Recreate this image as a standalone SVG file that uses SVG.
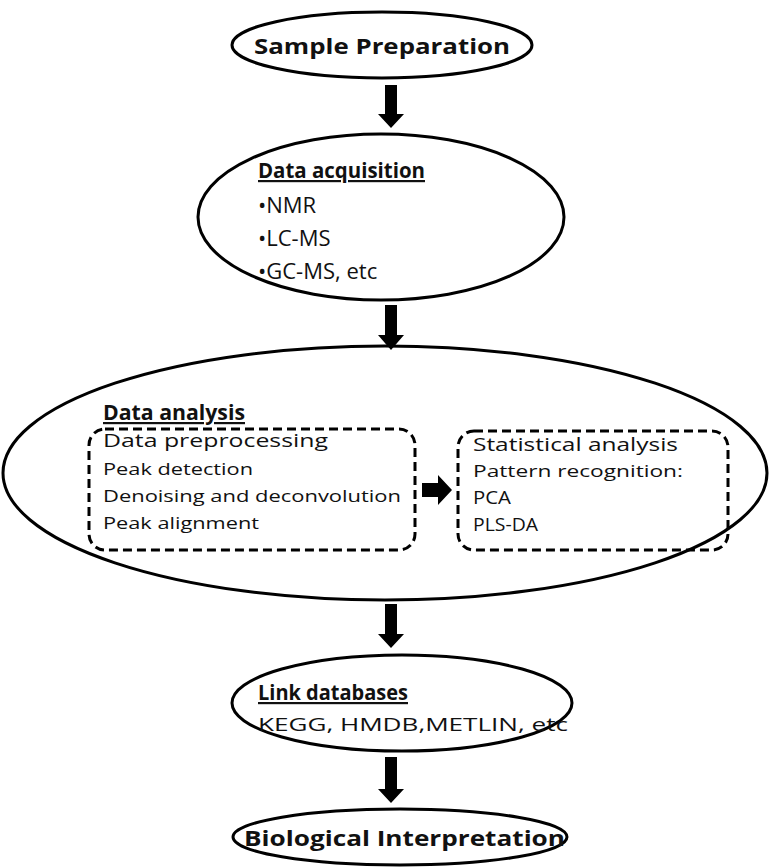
<svg xmlns="http://www.w3.org/2000/svg" width="769" height="868" viewBox="0 0 769 868">
<defs>
<style>
.node{fill:#fff;stroke:#000;stroke-width:3}
.box{fill:none;stroke:#000;stroke-width:3;stroke-dasharray:9 5}
.t{font-family:"Open Sans","Liberation Sans",sans-serif;fill:#111}
.b{font-weight:bold}
.u{text-decoration:underline}
.arrow{fill:#000}
</style>
</defs>
<rect width="769" height="868" fill="#fff"/>
<g id="sample-prep">
<ellipse class="node" cx="382" cy="45" rx="150" ry="33"/>
<text class="t b" x="254" y="54" font-size="22" textLength="256" lengthAdjust="spacingAndGlyphs">Sample Preparation</text>
</g>
<g id="data-acquisition">
<ellipse class="node" cx="381" cy="217" rx="183" ry="83"/>
<text class="t b u" x="258" y="178" font-size="22" textLength="167" lengthAdjust="spacingAndGlyphs">Data acquisition</text>
<text class="t" x="258" y="213" font-size="22">•NMR</text>
<text class="t" x="258" y="246" font-size="22">•LC-MS</text>
<text class="t" x="258" y="279" font-size="22">•GC-MS, etc</text>
</g>
<g id="data-analysis">
<ellipse class="node" cx="385" cy="473" rx="382" ry="127"/>
<text class="t b u" x="103" y="420" font-size="22" textLength="142" lengthAdjust="spacingAndGlyphs">Data analysis</text>
</g>
<g id="preprocessing">
<rect class="box" x="89" y="429" width="326" height="121" rx="16"/>
<text class="t" x="103" y="447" font-size="19" textLength="225" lengthAdjust="spacingAndGlyphs">Data preprocessing</text>
<text class="t" x="103" y="475" font-size="17" textLength="150" lengthAdjust="spacingAndGlyphs">Peak detection</text>
<text class="t" x="103" y="502" font-size="17" textLength="298" lengthAdjust="spacingAndGlyphs">Denoising and  deconvolution</text>
<text class="t" x="103" y="529" font-size="17" textLength="156" lengthAdjust="spacingAndGlyphs">Peak alignment</text>
</g>
<g id="statistical">
<rect class="box" x="458" y="431" width="270" height="119" rx="16"/>
<text class="t" x="473" y="451" font-size="18" textLength="205" lengthAdjust="spacingAndGlyphs">Statistical analysis</text>
<text class="t" x="473" y="477" font-size="17" textLength="210" lengthAdjust="spacingAndGlyphs">Pattern recognition:</text>
<text class="t" x="473" y="504" font-size="18" textLength="38" lengthAdjust="spacingAndGlyphs">PCA</text>
<text class="t" x="473" y="531" font-size="18" textLength="65" lengthAdjust="spacingAndGlyphs">PLS-DA</text>
</g>
<g id="link-databases">
<ellipse class="node" cx="402" cy="703" rx="170" ry="48"/>
<text class="t b u" x="258" y="700" font-size="22" textLength="150" lengthAdjust="spacingAndGlyphs">Link databases</text>
<text class="t" x="258" y="731" font-size="19" textLength="310" lengthAdjust="spacingAndGlyphs">KEGG, HMDB,METLIN, etc</text>
</g>
<g id="biological-interpretation">
<ellipse class="node" cx="400" cy="837" rx="167" ry="28"/>
<text class="t b" x="244" y="846" font-size="22" textLength="321" lengthAdjust="spacingAndGlyphs">Biological Interpretation</text>
</g>
<g id="connectors">
<polygon class="arrow" points="385,85 397,85 397,114 404,114 391,128 378,114 385,114"/>
<polygon class="arrow" points="385,305 397,305 397,335 404,335 391,350 378,335 385,335"/>
<polygon class="arrow" points="422,483 438,483 438,475 452,490 438,505 438,497 422,497"/>
<polygon class="arrow" points="385,604 397,604 397,634 404,634 391,648 378,634 385,634"/>
<polygon class="arrow" points="385,757 397,757 397,789 404,789 391,803 378,789 385,789"/>
</g>
</svg>
